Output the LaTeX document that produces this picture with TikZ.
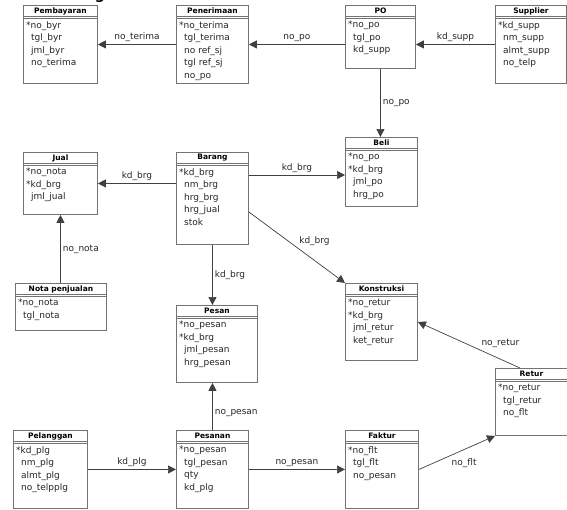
\documentclass[tikz,border=0pt]{standalone}
\usepackage{fontspec}
\setmainfont{DejaVu Sans}
\usetikzlibrary{arrows.meta}
\tikzset{
 ebox/.style={draw=black!55, line width=0.9pt, fill=white, rectangle, anchor=north west, inner sep=0pt},
 etitle/.style={font=\bfseries\fontsize{7.5}{8}\selectfont, anchor=center, inner sep=0pt},
 efields/.style={font=\fontsize{9}{12.5}\selectfont, align=left, anchor=north west, inner sep=0pt, text=black!85},
 rel/.style={draw=black!75, line width=0.7pt, -{Triangle[length=8pt,width=8pt]}},
 rlabel/.style={font=\fontsize{9}{10}\selectfont, text=black!85, inner sep=2pt},
 sepline/.style={draw=black!55, line width=0.6pt}
}
\newcommand\erbox[7]{%
 \node[ebox, minimum width=#4pt, minimum height=#5pt] (#1) at (#2,#3) {};
 \draw[sepline] ([yshift=-11pt]#1.north west) -- ([yshift=-11pt]#1.north east);
 \draw[sepline] ([yshift=-13pt]#1.north west) -- ([yshift=-13pt]#1.north east);
 \node[etitle] at ([yshift=-6pt]#1.north) {#6};
 \node[efields] at ([xshift=3pt,yshift=-16pt]#1.north west) {#7};
}
\newcommand\ind{\hspace*{5pt}}
\begin{document}
\begin{tikzpicture}[x=1pt,y=-1pt]
\useasboundingbox (0,0) rectangle (567,509);
\node[font=\bfseries\fontsize{14}{14}\selectfont, anchor=base, inner sep=0pt] (cut) at (100,-1) {g};

\erbox{pemb}{23}{5}{74}{78}{Pembayaran}{*no\_byr\\ \ind tgl\_byr\\ \ind jml\_byr\\ \ind no\_terima}
\erbox{pener}{176}{5}{72}{78}{Penerimaan}{*no\_terima\\ \ind tgl\_terima\\ \ind no ref\_sj\\ \ind tgl ref\_sj\\ \ind no\_po}
\erbox{po}{345}{5}{70}{63}{PO}{*no\_po\\ \ind tgl\_po\\ \ind kd\_supp}
\erbox{supp}{495}{5}{71}{78}{Supplier}{*kd\_supp\\ \ind nm\_supp\\ \ind almt\_supp\\ \ind no\_telp}
\erbox{jual}{23}{152}{74}{62}{Jual}{*no\_nota\\ *kd\_brg\\ \ind jml\_jual}
\erbox{barang}{176}{152}{72}{92}{Barang}{*kd\_brg\\ \ind nm\_brg\\ \ind hrg\_brg\\ \ind hrg\_jual\\ \ind stok}
\erbox{beli}{345}{137}{72}{69}{Beli}{*no\_po\\ *kd\_brg\\ \ind jml\_po\\ \ind hrg\_po}
\erbox{nota}{15}{283}{91}{47}{Nota penjualan}{*no\_nota\\ \ind tgl\_nota}
\erbox{pesan}{176}{305}{81}{77}{Pesan}{*no\_pesan\\ *kd\_brg\\ \ind jml\_pesan\\ \ind hrg\_pesan}
\erbox{konst}{345}{283}{72}{77}{Konstruksi}{*no\_retur\\ *kd\_brg\\ \ind jml\_retur\\ \ind ket\_retur}
\erbox{retur}{495}{368}{72}{67}{Retur}{*no\_retur\\ \ind tgl\_retur\\ \ind no\_flt}
\erbox{pel}{13}{430}{74}{78}{Pelanggan}{*kd\_plg\\ \ind nm\_plg\\ \ind almt\_plg\\ \ind no\_telpplg}
\erbox{pesanan}{176}{430}{72}{78}{Pesanan}{*no\_pesan\\ \ind tgl\_pesan\\ \ind qty\\ \ind kd\_plg}
\erbox{faktur}{345}{430}{73}{78}{Faktur}{*no\_flt\\ \ind tgl\_flt\\ \ind no\_pesan}

\draw[rel] (pener.west) -- node[rlabel, above] {no\_terima} (pemb.east);
\draw[rel] (po.west |- pener.east) -- node[rlabel, above] {no\_po} (pener.east);
\draw[rel] (supp.west) -- node[rlabel, above] {kd\_supp} (supp.west -| po.east);
\draw[rel] (po.south) -- node[rlabel, right] {no\_po} (po.south |- beli.north);
\draw[rel] (barang.west |- jual.east) -- node[rlabel, above] {kd\_brg} (jual.east);
\coordinate (bb) at ([yshift=-23pt]barang.north east);
\draw[rel] (bb) -- node[rlabel, above] {kd\_brg} (bb -| beli.west);
\coordinate (bk) at ([yshift=-60pt]barang.north east);
\draw[rel] (bk) -- node[rlabel, above right, pos=0.5] {kd\_brg} (konst.north west);
\draw[rel] (nota.north -| jual.south) -- node[rlabel, right] {no\_nota} (jual.south);
\draw[rel] (barang.south) -- node[rlabel, right] {kd\_brg} (barang.south |- pesan.north);
\draw[rel] (pesanan.north) -- node[rlabel, right, pos=0.35] {no\_pesan} (pesanan.north |- pesan.south);
\draw[rel] (pel.east) -- node[rlabel, above] {kd\_plg} (pesanan.west);
\draw[rel] (pesanan.east) -- node[rlabel, above] {no\_pesan} (faktur.west);
\draw[rel] (faktur.east) -- node[rlabel, below right, pos=0.4] {no\_flt} (retur.south west);
\coordinate (rt) at ([xshift=25pt]retur.north west);
\draw[rel] (rt) -- node[rlabel, above right, pos=0.4] {no\_retur} (konst.east);
\end{tikzpicture}
\end{document}
